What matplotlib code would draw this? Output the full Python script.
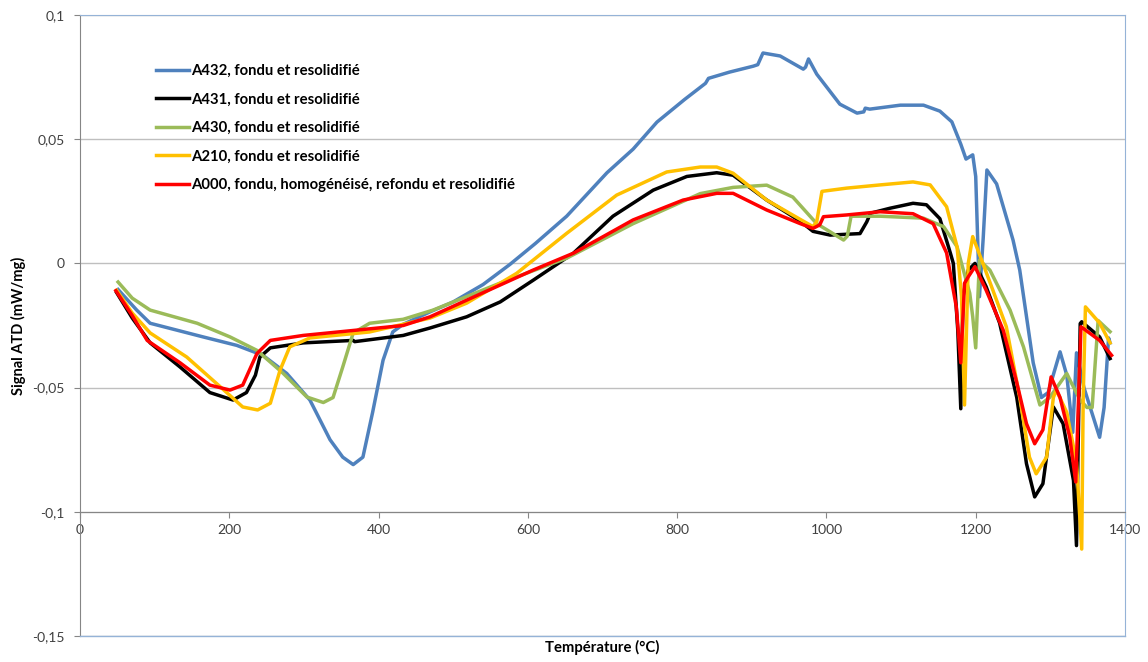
import matplotlib.pyplot as plt

plt.rcParams['font.family'] = ['Lato', 'DejaVu Sans']

# axis ticks
xticks = [0, 200, 400, 600, 800, 1000, 1200, 1400]
xtick_labels = ['0', '200', '400', '600', '800', '1000', '1200', '1400']
yticks = [-0.15, -0.1, -0.05, 0, 0.05, 0.1]
ytick_labels = ['-0,15', '-0,1', '-0,05', '0', '0,05', '0,1']

# A432 (blue)
a432_t = [51, 76, 94, 165, 210, 245, 277, 308, 335, 352, 366, 379, 392, 406, 419, 433,
          469, 500, 540, 576, 610, 652, 706, 741, 773, 810, 838, 842, 870, 902, 908, 915,
          938, 969, 972, 976, 987, 1018, 1041, 1050, 1052, 1058, 1099, 1130, 1152, 1168,
          1180, 1187, 1196, 1200, 1205, 1210, 1215, 1228, 1250, 1259, 1277, 1288, 1297,
          1313, 1322, 1330, 1335, 1345, 1366, 1372, 1378, 1380]
a432_v = [-0.0105, -0.0188, -0.0241, -0.0296, -0.033, -0.037, -0.0443, -0.055, -0.071,
          -0.078, -0.081, -0.078, -0.060, -0.039, -0.0276, -0.0245, -0.0195, -0.0155,
          -0.0085, -0.0004, 0.008, 0.019, 0.0365, 0.046, 0.0569, 0.066, 0.0725, 0.0745,
          0.077, 0.0794, 0.080, 0.0847, 0.0835, 0.0782, 0.079, 0.0823, 0.0762, 0.0641,
          0.0605, 0.061, 0.0625, 0.0621, 0.0637, 0.0637, 0.0613, 0.057, 0.048, 0.042,
          0.0437, 0.035, -0.0134, 0.01, 0.0376, 0.032, 0.0094, -0.0027, -0.040, -0.054,
          -0.052, -0.0356, -0.045, -0.068, -0.036, -0.05, -0.070, -0.058, -0.03, -0.032]

# A431 (black)
a431_t = [49, 70, 94, 134, 174, 205, 223, 235, 241, 255, 299, 366, 368, 433, 469, 518,
          563, 607, 661, 714, 768, 813, 853, 875, 920, 965, 982, 1005, 1045, 1054, 1059,
          1085, 1116, 1134, 1152, 1166, 1170, 1176, 1180, 1183, 1190, 1199, 1214, 1232,
          1255, 1268, 1279, 1290, 1304, 1317, 1331, 1335, 1340, 1342, 1366, 1380]
a431_v = [-0.0117, -0.022, -0.032, -0.0417, -0.052, -0.055, -0.052, -0.045, -0.0377,
          -0.034, -0.032, -0.031, -0.0315, -0.029, -0.026, -0.0215, -0.0155, -0.0068,
          0.0041, 0.019, 0.0295, 0.035, 0.0365, 0.0355, 0.0255, 0.017, 0.0129, 0.0114,
          0.012, 0.0167, 0.0202, 0.0222, 0.0242, 0.0236, 0.018, 0.0042, 0.0, -0.027,
          -0.0585, -0.0134, -0.0027, 0.0, -0.0094, -0.024, -0.054, -0.0806, -0.094,
          -0.0887, -0.0578, -0.0645, -0.0874, -0.1136, -0.0242, -0.0235, -0.0296, -0.0383]

# A430 (green)
a430_t = [51, 70, 94, 157, 201, 237, 272, 304, 326, 339, 352, 366, 388, 433, 473, 563,
          652, 741, 831, 875, 920, 955, 987, 1023, 1028, 1033, 1072, 1130, 1157, 1175,
          1181, 1192, 1196, 1200, 1205, 1219, 1246, 1264, 1286, 1299, 1322, 1328, 1340,
          1349, 1356, 1364, 1380]
a430_v = [-0.0075, -0.014, -0.0188, -0.0241, -0.0296, -0.035, -0.0442, -0.0538, -0.056,
          -0.054, -0.0417, -0.028, -0.0241, -0.0225, -0.0188, -0.0079, 0.0021, 0.016,
          0.0281, 0.0306, 0.0315, 0.0267, 0.016, 0.0094, 0.011, 0.019, 0.019, 0.0182,
          0.0148, 0.0067, 0.0, -0.012, -0.0215, -0.034, 0.0013, -0.0027, -0.0188,
          -0.0336, -0.057, -0.054, -0.0443, -0.048, -0.055, -0.058, -0.058, -0.023, -0.0275]

# A210 (yellow)
a210_t = [49, 70, 94, 143, 188, 218, 238, 255, 268, 281, 308, 388, 469, 518, 585, 652,
          719, 786, 831, 853, 875, 920, 965, 982, 987, 994, 1027, 1072, 1116, 1139, 1161,
          1175, 1181, 1185, 1190, 1196, 1208, 1223, 1241, 1259, 1272, 1281, 1295, 1304,
          1308, 1322, 1335, 1342, 1344, 1347, 1366, 1380]
a210_v = [-0.0108, -0.02, -0.028, -0.0377, -0.0497, -0.0578, -0.059, -0.0563, -0.043,
          -0.0336, -0.030, -0.0276, -0.022, -0.016, -0.004, 0.0121, 0.0275, 0.0368,
          0.0388, 0.0388, 0.0363, 0.0255, 0.0177, 0.0148, 0.0168, 0.029, 0.0303, 0.0316,
          0.0328, 0.0316, 0.0228, 0.0067, -0.0134, -0.057, 0.0, 0.0108, 0.0013, -0.0108,
          -0.0255, -0.054, -0.078, -0.0847, -0.078, -0.054, -0.051, -0.060, -0.080,
          -0.115, -0.054, -0.0175, -0.024, -0.032]

# A000 (red)
a000_t = [48, 70, 90, 134, 174, 201, 218, 237, 255, 299, 366, 433, 469, 518, 607, 661,
          741, 808, 853, 875, 920, 965, 982, 991, 996, 1027, 1072, 1116, 1143, 1161, 1174,
          1180, 1185, 1190, 1199, 1214, 1237, 1255, 1268, 1279, 1290, 1301, 1313, 1326,
          1334, 1341, 1366, 1382]
a000_v = [-0.011, -0.021, -0.031, -0.040, -0.049, -0.051, -0.049, -0.0363, -0.031,
          -0.029, -0.027, -0.025, -0.0215, -0.0148, -0.0027, 0.0041, 0.0175, 0.0255,
          0.0282, 0.0282, 0.0215, 0.016, 0.0141, 0.0155, 0.0188, 0.0195, 0.0208, 0.020,
          0.016, 0.0042, -0.0175, -0.040, -0.008, -0.0054, -0.0013, -0.0108, -0.027,
          -0.048, -0.0645, -0.0726, -0.067, -0.0457, -0.054, -0.070, -0.088, -0.0255,
          -0.031, -0.037]

series = [
    (a432_t, a432_v, '#4F81BD', 'A432, fondu et resolidifié'),
    (a431_t, a431_v, '#000000', 'A431, fondu et resolidifié'),
    (a430_t, a430_v, '#9BBB59', 'A430, fondu et resolidifié'),
    (a210_t, a210_v, '#FFC000', 'A210, fondu et resolidifié'),
    (a000_t, a000_v, '#FF0000', 'A000, fondu, homogénéisé, refondu et resolidifié'),
]

fig = plt.figure(figsize=(11.48, 6.62), dpi=100)
ax = fig.add_axes([80 / 1148, 1 - 636 / 662, 1045 / 1148, 621 / 662])

for t, v, c, lab in series:
    ax.plot(t, v, color=c, lw=2.5, label=lab, solid_joinstyle='round', zorder=3)

ax.set_xlim(0, 1400)
ax.set_ylim(-0.15, 0.1)
ax.set_xticks(xticks)
ax.set_xticklabels(xtick_labels)
ax.set_yticks(yticks)
ax.set_yticklabels(ytick_labels)

ax.yaxis.grid(True, color='#BFBFBF', lw=1, zorder=0)
ax.set_axisbelow(True)

# x axis crosses at -0.1, plot area border in light blue
ax.spines['bottom'].set_position(('data', -0.1))
ax.spines['bottom'].set_color('#868686')
ax.spines['left'].set_color('#868686')
ax.spines['top'].set_color('#95B3D7')
ax.spines['right'].set_color('#95B3D7')
ax.axhline(-0.15, color='#95B3D7', lw=1, clip_on=False, zorder=4)

ax.tick_params(axis='both', direction='out', length=4, color='#868686',
               labelsize=10, labelcolor='#404040')
ax.tick_params(axis='y', pad=7)
ax.tick_params(axis='x', pad=5)

ax.set_xlabel('Température (°C)', fontsize=10.7, fontweight='bold', color='#000000')
ax.xaxis.set_label_coords(0.5, -0.006)
ax.set_ylabel('Signal ATD (mW/mg)', fontsize=10.5, fontweight='bold', color='#000000')
ax.yaxis.set_label_coords(-0.052, 0.5)

ax.legend(loc='upper left', bbox_to_anchor=(70 / 1045, 578 / 621), frameon=False,
          prop={'weight': 'bold', 'size': 10.7}, handlelength=2.2,
          handletextpad=0.15, labelspacing=0.98, borderaxespad=0)

fig.savefig('out.png', dpi=100)
